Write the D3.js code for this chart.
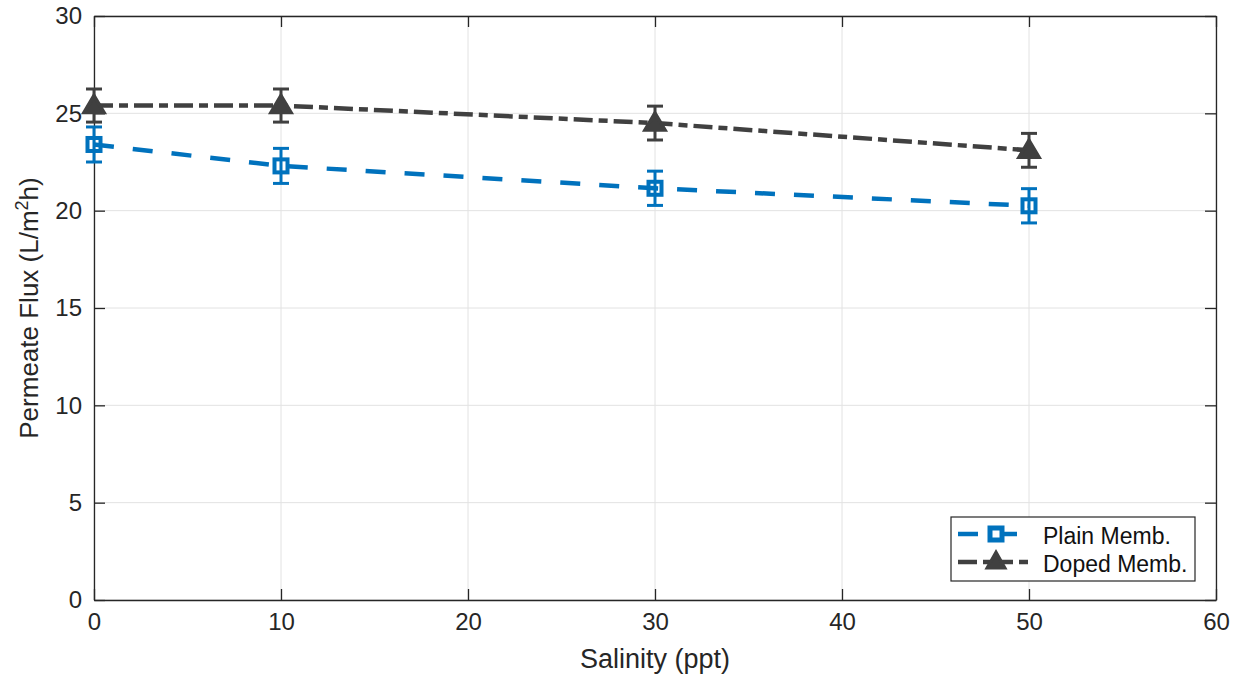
<!DOCTYPE html>
<html><head><meta charset="utf-8">
<script src="https://cdn.jsdelivr.net/npm/d3@7"></script>
<style>body{margin:0;background:#fff}svg{display:block;font-family:"Liberation Sans",Arial,sans-serif}</style>
</head><body>
<svg id="c" width="1236" height="676"></svg>
<script>
const salinity = [0, 10, 30, 50];
const plainFlux = [23.4, 22.3, 21.15, 20.25];
const plainErr = [0.9, 0.9, 0.88, 0.88];
const dopedFlux = [25.4, 25.4, 24.5, 23.1];
const dopedErr = [0.85, 0.85, 0.87, 0.87];
const xTicks = [0, 10, 20, 30, 40, 50, 60];
const yTicks = [0, 5, 10, 15, 20, 25, 30];
const seriesNames = ["Plain Memb.", "Doped Memb."];

const svg = d3.select("#c");
const L = 94, R = 1216, T = 16, B = 600;
const x = d3.scaleLinear().domain([0, 60]).range([L, R]);
const y = d3.scaleLinear().domain([0, 30]).range([B, T]);
const axisCol = "#262626";

// grid
svg.append("g").selectAll("line").data(xTicks).join("line")
  .attr("x1", d => x(d)).attr("x2", d => x(d)).attr("y1", T).attr("y2", B)
  .attr("stroke", "#e2e2e2").attr("stroke-width", 1);
svg.append("g").selectAll("line").data(yTicks).join("line")
  .attr("y1", d => y(d)).attr("y2", d => y(d)).attr("x1", L).attr("x2", R)
  .attr("stroke", "#e2e2e2").attr("stroke-width", 1);

// axes
const tickLen = 11;
const gx = svg.append("g").attr("transform", `translate(0,${B})`)
  .call(d3.axisBottom(x).tickValues(xTicks).tickSizeInner(-tickLen).tickSizeOuter(0).tickPadding(13));
const gy = svg.append("g").attr("transform", `translate(${L},0)`)
  .call(d3.axisLeft(y).tickValues(yTicks).tickSizeInner(-tickLen).tickSizeOuter(0).tickPadding(12));
const gxt = svg.append("g").attr("transform", `translate(0,${T})`)
  .call(d3.axisTop(x).tickValues(xTicks).tickSizeInner(-tickLen).tickSizeOuter(0).tickFormat(""));
const gyr = svg.append("g").attr("transform", `translate(${R},0)`)
  .call(d3.axisRight(y).tickValues(yTicks).tickSizeInner(-tickLen).tickSizeOuter(0).tickFormat(""));
[gx, gy, gxt, gyr].forEach(g => {
  g.selectAll("path").attr("stroke", axisCol).attr("stroke-width", 1.3);
  g.selectAll("line").attr("stroke", axisCol).attr("stroke-width", 1.3);
  g.selectAll("text").attr("fill", axisCol).attr("font-size", 24);
});

// titles
svg.append("text").attr("x", x(30)).attr("y", 668).attr("text-anchor", "middle")
  .attr("font-size", 27).attr("fill", axisCol).text("Salinity (ppt)");
const yt = svg.append("text").attr("transform", `translate(38,${(T + B) / 2}) rotate(-90)`)
  .attr("text-anchor", "middle").attr("font-size", 26).attr("fill", axisCol);
yt.append("tspan").text("Permeate Flux (L/m");
yt.append("tspan").attr("dy", -10).attr("font-size", 18).text("2");
yt.append("tspan").attr("dy", 10).text("h)");

const plot = svg.append("g");
const series = [
  {vals: plainFlux, err: plainErr, color: "#0072BD", dash: "20,19", marker: "square"},
  {vals: dopedFlux, err: dopedErr, color: "#404040", dash: "19,6,9,6", marker: "triangle"}
];
const line = d3.line().x((d, i) => x(salinity[i])).y(d => y(d));

function drawMarker(g, cx, cy, s) {
  if (s.marker === "square") {
    g.append("rect").attr("x", cx - 6.5).attr("y", cy - 6.5).attr("width", 13).attr("height", 13)
      .attr("fill", "none").attr("stroke", s.color).attr("stroke-width", 4);
  } else {
    g.append("path").attr("d", `M${cx},${cy - 10}L${cx + 10},${cy + 7}L${cx - 10},${cy + 7}Z`)
      .attr("fill", s.color).attr("stroke", s.color).attr("stroke-width", 3.5).attr("stroke-linejoin", "miter");
  }
}

series.forEach(s => {
  plot.append("path").datum(s.vals).attr("d", line).attr("fill", "none")
    .attr("stroke", s.color).attr("stroke-width", 4.5).attr("stroke-dasharray", s.dash);
  s.vals.forEach((v, i) => {
    const cx = x(salinity[i]);
    const g = plot.append("g").attr("stroke", s.color).attr("stroke-width", 3);
    g.append("line").attr("x1", cx).attr("x2", cx).attr("y1", y(v - s.err[i])).attr("y2", y(v + s.err[i]));
    g.append("line").attr("x1", cx - 8).attr("x2", cx + 8).attr("y1", y(v - s.err[i])).attr("y2", y(v - s.err[i]));
    g.append("line").attr("x1", cx - 8).attr("x2", cx + 8).attr("y1", y(v + s.err[i])).attr("y2", y(v + s.err[i]));
    drawMarker(plot, cx, y(v), s);
  });
});

// legend
const lg = svg.append("g");
lg.append("rect").attr("x", 951).attr("y", 517).attr("width", 244).attr("height", 64)
  .attr("fill", "#fff").attr("stroke", axisCol).attr("stroke-width", 1.2);
series.forEach((s, i) => {
  const ly = 534 + i * 28;
  if (s.marker === "square") {
    lg.append("line").attr("x1", 958).attr("x2", 978).attr("y1", ly).attr("y2", ly)
      .attr("stroke", s.color).attr("stroke-width", 4.5);
    lg.append("line").attr("x1", 998).attr("x2", 1017).attr("y1", ly).attr("y2", ly)
      .attr("stroke", s.color).attr("stroke-width", 4.5);
    lg.append("rect").attr("x", 990).attr("y", ly - 6).attr("width", 12).attr("height", 12)
      .attr("fill", "#fff").attr("stroke", s.color).attr("stroke-width", 5);
  } else {
    lg.append("line").attr("x1", 958).attr("x2", 1033).attr("y1", ly).attr("y2", ly)
      .attr("stroke", s.color).attr("stroke-width", 4.5).attr("stroke-dasharray", "19,6,30,6,9");
    lg.append("path").attr("d", `M996,${ly - 10}L1005,${ly + 6}L987,${ly + 6}Z`)
      .attr("fill", s.color).attr("stroke", s.color).attr("stroke-width", 3);
  }
  lg.append("text").attr("x", 1043).attr("y", ly + 10).attr("font-size", 23)
    .attr("fill", "#111").text(seriesNames[i]);
});
</script>
</body></html>
